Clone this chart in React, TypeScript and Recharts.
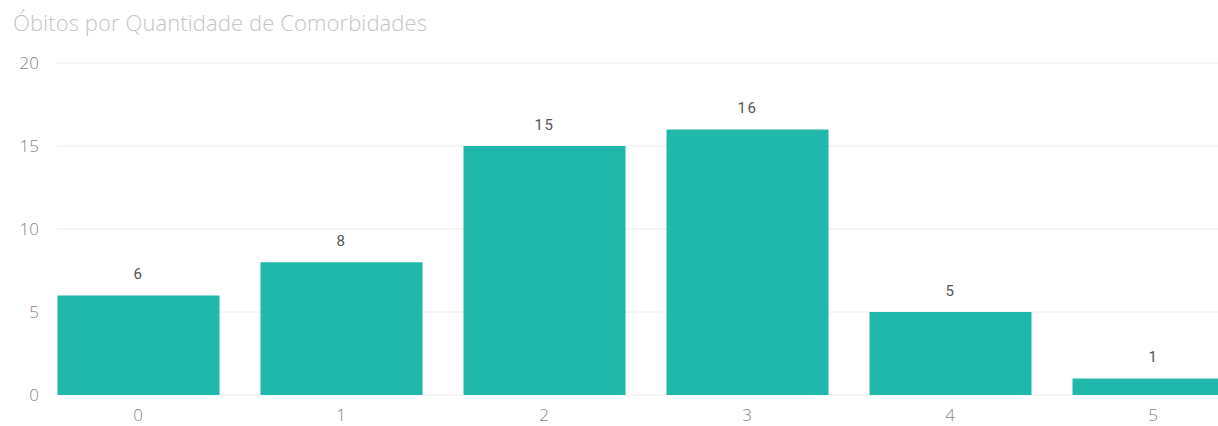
import { BarChart, Bar, XAxis, YAxis, CartesianGrid, LabelList } from "recharts";

const comorbidities = ["0", "1", "2", "3", "4", "5"];
const deaths = [6, 8, 15, 16, 5, 1];
const yTicks = [0, 5, 10, 15, 20];

const data = comorbidities.map((name, i) => ({ name, value: deaths[i] }));

const tickStyle = {
  fill: "#858585",
  fontSize: 17,
  fontWeight: 300,
  fontFamily: "'Open Sans', sans-serif",
};

export default function App() {
  return (
    <div
      style={{
        position: "absolute",
        left: 0,
        top: 0,
        width: 1218,
        height: 426,
        overflow: "hidden",
        background: "#fff",
      }}
    >
      <div
        style={{
          position: "absolute",
          left: 13,
          top: 7,
          fontFamily: "'Open Sans', sans-serif",
          fontSize: 22,
          fontWeight: 300,
          letterSpacing: 0.1,
          color: "#c4c4c4",
          whiteSpace: "nowrap",
        }}
      >
        Óbitos por Quantidade de Comorbidades
      </div>
      <BarChart
        width={1260}
        height={426}
        data={data}
        margin={{ top: 63, right: 26, bottom: 0, left: 0 }}
        barSize={162}
      >
        <CartesianGrid vertical={false} stroke="#ececec" />
        <XAxis
          dataKey="name"
          axisLine={false}
          tickLine={false}
          tickSize={0}
          tickMargin={14}
          height={31}
          padding={{ left: -20.5, right: -20.5 }}
          tick={tickStyle}
        />
        <YAxis
          domain={[0, 20]}
          ticks={yTicks}
          axisLine={false}
          tickLine={false}
          tickSize={0}
          tickMargin={18}
          width={57}
          tick={tickStyle}
        />
        <Bar dataKey="value" fill="#20b8aa" isAnimationActive={false}>
          <LabelList
            dataKey="value"
            position="top"
            offset={16}
            fill="#555"
            fontSize={15}
            fontFamily="Roboto, sans-serif"
            letterSpacing={1.5}
          />
        </Bar>
      </BarChart>
    </div>
  );
}
